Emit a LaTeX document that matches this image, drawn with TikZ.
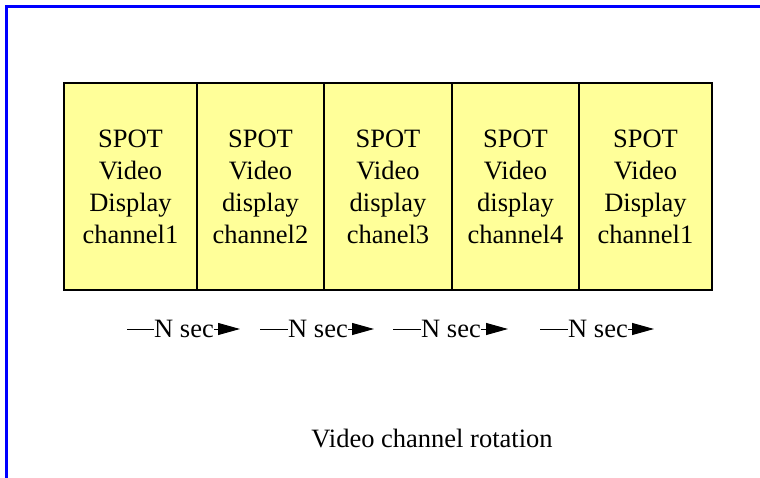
\documentclass[tikz,border=0pt]{standalone}
\usepackage{fontspec}
\setmainfont{Liberation Serif}
\usetikzlibrary{arrows.meta}
\definecolor{boxyellow}{RGB}{255,255,153}
\definecolor{frameblue}{RGB}{0,0,255}
\begin{document}
\begin{tikzpicture}[x=1pt,y=-1pt,
  chbox/.style={draw=black,line width=1.3pt,fill=boxyellow,minimum height=207pt,inner sep=0pt,align=center,font=\fontsize{26.5}{32}\selectfont},
  lbl/.style={inner sep=0pt,anchor=base west,font=\fontsize{26.5}{30}\selectfont},
  seg/.style={line width=1pt},
  arr/.style={line width=1pt,-{Triangle[length=22pt,width=12pt]}}]
\useasboundingbox (0,0) rectangle (760,478);
% frame
\coordinate (ftr) at (760,7);
\coordinate (ftl) at (6,7);
\coordinate (fbl) at (6,478);
\draw[frameblue,line width=3pt] (ftr) -- (ftl) -- (fbl);
% boxes
\node[chbox,minimum width=133pt] (b1) at (130.5,186.5) {SPOT\\Video\\Display\\channel1};
\node[chbox,minimum width=127pt] (b2) at (260.5,186.5) {SPOT\\Video\\display\\channel2};
\node[chbox,minimum width=128pt] (b3) at (388,186.5) {SPOT\\Video\\display\\chanel3};
\node[chbox,minimum width=127pt] (b4) at (515.5,186.5) {SPOT\\Video\\display\\channel4};
\node[chbox,minimum width=133pt] (b5) at (645.5,186.5) {SPOT\\Video\\Display\\channel1};
% arrows
\foreach \i/\s/\n/\e in {1/127/154/240, 2/260/288/374, 3/393/421/508, 4/540/568/654}{
  \coordinate (s\i) at (\s,329);
  \coordinate (e\i) at (\e,329);
  \node[lbl] (t\i) at (\n,337) {N sec};
  \draw[seg] (s\i) -- (s\i -| t\i.west);
  \draw[arr] (s\i -| t\i.east) -- (e\i);
}
% caption
\node[font=\fontsize{26.5}{30}\selectfont,inner sep=0pt,anchor=base] (cap) at (432,447) {Video channel rotation};
\end{tikzpicture}
\end{document}
